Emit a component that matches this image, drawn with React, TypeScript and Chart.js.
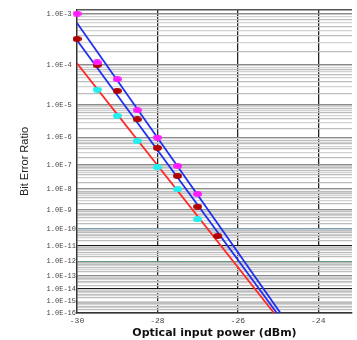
import React, { useEffect, useRef } from 'react';
import { Chart, registerables } from 'chart.js';

Chart.register(...registerables);

// Measured points: optical input power (dBm) vs BER
const powerDbm = [-30, -29.5, -29, -28.5, -28, -27.5, -27, -26.5];
const berMagenta = [1.0e-3, 1.15e-4, 4.7e-5, 7.1e-6, 1.0e-6, 9.2e-8, 5.9e-9, null];
const berDarkRed = [3.5e-4, 1.0e-4, 2.4e-5, 3.8e-6, 4.4e-7, 3.7e-8, 1.5e-9, 4.0e-11];
const berCyan = [null, 2.6e-5, 4.9e-6, 7.8e-7, 8.2e-8, 9.9e-9, 3.3e-10, null];

// Fitted lines (start / end)
const fitBlue1Dbm = [-30, -24.94];
const fitBlue1Ber = [6.9e-4, 1e-16];
const fitBlue2Dbm = [-30, -25.03];
const fitBlue2Ber = [3.3e-4, 1e-16];
const fitRedDbm = [-30, -25.1];
const fitRedBer = [1.09e-4, 1e-16];

// Reference BER levels (dotted)
const refBerLevels = [1e-10, 1e-12];
const refColors = ['#6cc6e6', '#3aa66a'];

// Axes
const xTicks = [-30, -28, -26, -24];
const xMin = -30;
const xMax = -23.16;
const decadeExps = [3, 4, 5, 6, 7, 8, 9, 10, 11, 12, 13, 14, 15, 16];
const minorMultipliers = [9, 8, 7, 6, 5, 4, 3, 2];
const berTop = 1.15e-3;
const berBottom = 1e-16;

const tOf = (ber: number) => Math.log10(-Math.log10(ber));

type YTick = { value: number; label: string; kind: string; n?: number; k?: number };

function buildYTicks(): YTick[] {
  const list: YTick[] = [{ value: tOf(berTop), label: '', kind: 'border' }];
  decadeExps.forEach((n) => {
    list.push({ value: tOf(Math.pow(10, -n)), label: ('1.0E-' + n).padEnd(7, ' '), kind: 'decade', n });
    if (n < 16) {
      minorMultipliers.forEach((k) => {
        list.push({ value: tOf(k * Math.pow(10, -(n + 1))), label: '', kind: 'minor', k });
      });
    }
  });
  list.sort((a, b) => a.value - b.value);
  return list;
}

function makeEllipse(color: string) {
  const c = document.createElement('canvas');
  c.width = 9;
  c.height = 6;
  const g = c.getContext('2d')!;
  g.fillStyle = color;
  g.beginPath();
  g.ellipse(4.5, 3, 4.5, 3, 0, 0, Math.PI * 2);
  g.fill();
  return c;
}

const toPoints = (xs: number[], bers: (number | null)[]) =>
  xs
    .map((x, i) => ({ x, b: bers[i] }))
    .filter((p) => p.b !== null && p.b !== undefined)
    .map((p) => ({ x: p.x, y: tOf(p.b as number) }));

export default function App() {
  const ref = useRef<HTMLCanvasElement>(null);

  useEffect(() => {
    if (!ref.current) return;
    const yTicks = buildYTicks();

    const markerSet = (label: string, bers: (number | null)[], color: string) => ({
      label,
      data: toPoints(powerDbm, bers),
      showLine: false,
      pointStyle: makeEllipse(color) as any,
      pointRadius: 4,
      backgroundColor: color,
      borderColor: color,
      clip: false,
    });
    const lineSet = (label: string, xs: number[], bers: number[], color: string) => ({
      label,
      data: toPoints(xs, bers),
      showLine: true,
      borderColor: color,
      borderWidth: 1.8,
      pointRadius: 0,
      fill: false,
    });

    const datasets: any[] = [
      markerSet('magenta', berMagenta, '#ff1cff'),
      markerSet('darkred', berDarkRed, '#b00000'),
      markerSet('cyan', berCyan, '#1ff0f0'),
      lineSet('fit1', fitBlue1Dbm, fitBlue1Ber, '#1f2ff0'),
      lineSet('fit2', fitBlue2Dbm, fitBlue2Ber, '#1f2ff0'),
      lineSet('fit3', fitRedDbm, fitRedBer, '#ff2828'),
      ...refBerLevels.map((b, i) => ({
        label: 'ref' + i,
        data: [
          { x: xMin, y: tOf(b) },
          { x: xMax, y: tOf(b) },
        ],
        showLine: true,
        borderColor: refColors[i],
        borderWidth: 1,
        borderDash: [1.5, 1.5],
        pointRadius: 0,
      })),
    ];

    const chart = new Chart(ref.current, {
      type: 'scatter',
      data: { datasets },
      options: {
        animation: false,
        responsive: false,
        events: [],
        layout: { padding: { left: 0, right: 0, top: 10, bottom: 0 } },
        plugins: { legend: { display: false }, tooltip: { enabled: false } },
        scales: {
          x: {
            type: 'linear',
            min: xMin,
            max: xMax,
            afterBuildTicks: (s: any) => {
              s.ticks = xTicks.map((v) => ({ value: v }));
            },
            afterFit: (s: any) => {
              s.height = 27;
            },
            grid: {
              drawTicks: false,
              color: (c: any) => (c.tick && c.tick.value === -30 ? 'rgba(0,0,0,0)' : '#262626'),
              lineWidth: 1.3,
            },
            border: { color: '#333', width: 1.5 },
            ticks: {
              autoSkip: false,
              maxRotation: 0,
              padding: 3,
              color: '#444',
              font: { family: "'Liberation Mono', monospace", size: 8 },
              callback: (v: any) => String(v),
            },
            title: {
              display: true,
              text: 'Optical input power (dBm)',
              color: '#111',
              font: { family: "'DejaVu Sans', sans-serif", size: 11, weight: 'bold' },
              padding: { top: 0, bottom: 0.5 },
            },
          },
          y: {
            type: 'linear',
            reverse: true,
            min: tOf(berTop),
            max: tOf(berBottom),
            afterBuildTicks: (s: any) => {
              s.ticks = yTicks.map((t) => ({ value: t.value }));
            },
            afterFit: (s: any) => {
              s.width = 77;
            },
            grid: {
              drawTicks: false,
              color: (c: any) => {
                const t = yTicks[c.index];
                if (!t) return '#ccc';
                if (t.kind === 'border') return '#555';
                if (t.kind === 'decade') return t.n === 11 || t.n === 14 ? '#1a1a1a' : '#8c8c8c';
                return (t.k as number) % 2 === 0 ? '#bdbdbd' : '#d2d2d2';
              },
              lineWidth: (c: any) => {
                const t = yTicks[c.index];
                if (!t) return 1;
                if (t.kind === 'minor') return 1.2;
                return 1.5;
              },
            },
            border: { color: '#333', width: 1.5 },
            ticks: {
              autoSkip: false,
              padding: 1,
              color: '#444',
              font: { family: "'Liberation Mono', monospace", size: 7 },
              callback: (_v: any, i: number) => (yTicks[i] ? yTicks[i].label : ''),
            },
            title: {
              display: true,
              text: 'Bit Error Ratio',
              color: '#222',
              font: { family: "'Liberation Sans Narrow', 'Liberation Sans', sans-serif", size: 11 },
              padding: { top: 18, bottom: 0 },
            },
          },
        },
      } as any,
    });
    return () => chart.destroy();
  }, []);

  return (
    <canvas
      ref={ref}
      width={357}
      height={340}
      style={{ position: 'absolute', left: 0, top: 0, display: 'block' }}
    />
  );
}
